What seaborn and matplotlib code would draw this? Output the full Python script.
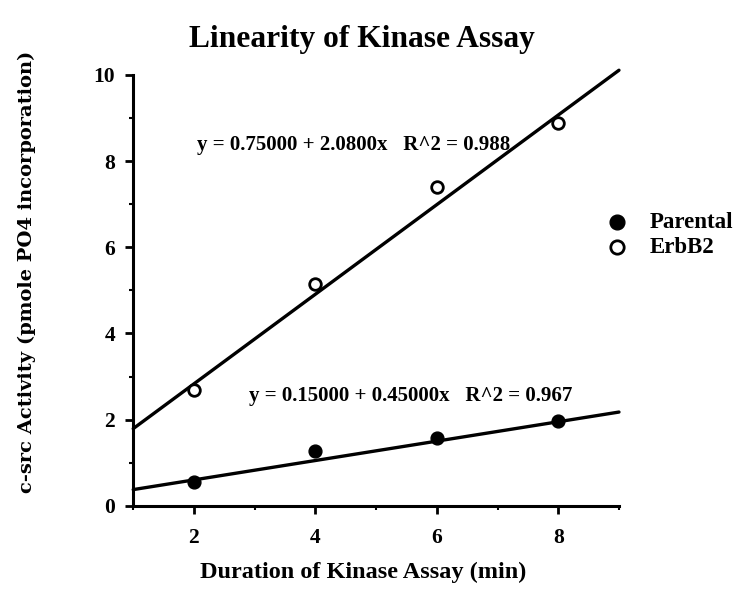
import numpy as np
import pandas as pd
import matplotlib
matplotlib.use("Agg")
import matplotlib.pyplot as plt
import seaborn as sns
from matplotlib.ticker import MultipleLocator

# values
minutes = [2, 4, 6, 8]
parental = [0.55, 1.28, 1.58, 1.97]
erbb2 = [2.68, 5.15, 7.39, 8.89]

# fit coefficients as printed (x = sample index, i.e. minutes / 2)
fit_parental = (0.15000, 0.45000, 0.967)
fit_erbb2 = (0.75000, 2.0800, 0.988)

df = pd.DataFrame({
    'minutes': minutes * 2,
    'activity': parental + erbb2,
    'group': ['Parental'] * 4 + ['ErbB2'] * 4,
})

sns.set_style("ticks")
plt.rcParams['font.family'] = ['Liberation Serif', 'DejaVu Serif']
plt.rcParams['font.weight'] = 'bold'
for key in ('text.color', 'axes.labelcolor', 'xtick.color', 'ytick.color'):
    plt.rcParams[key] = 'black'

fig = plt.figure(figsize=(7.36, 5.95), dpi=100)
ax = fig.add_axes([0.181, 0.150, 0.660, 0.724])

xlim = (1, 9)
xs = np.linspace(xlim[0], xlim[1], 50)
for (a, b, r2) in (fit_parental, fit_erbb2):
    fit_df = pd.DataFrame({'minutes': xs, 'activity': a + b * xs / 2})
    sns.lineplot(data=fit_df, x='minutes', y='activity', color='black',
                 linewidth=2.4, ax=ax, clip_on=False)

sns.scatterplot(data=df[df.group == 'Parental'], x='minutes', y='activity',
                color='black', edgecolor='black', s=85, linewidth=1,
                ax=ax, label='Parental', zorder=3)
sns.scatterplot(data=df[df.group == 'ErbB2'], x='minutes', y='activity',
                color='white', edgecolor='black', s=70, linewidth=2,
                ax=ax, label='ErbB2', zorder=3)

ax.set_xlim(*xlim)
ax.set_ylim(0, 10)
ax.xaxis.set_major_locator(MultipleLocator(2))
ax.xaxis.set_minor_locator(MultipleLocator(1))
ax.yaxis.set_major_locator(MultipleLocator(2))
ax.yaxis.set_minor_locator(MultipleLocator(1))
ax.set_xticks([2, 4, 6, 8])
ax.tick_params(which='major', length=6, width=2, labelsize=15.5)
ax.tick_params(which='minor', length=3, width=1.5)
ax.tick_params(axis='x', pad=10)
ax.tick_params(axis='y', pad=7)
for lbl in ax.get_xticklabels() + ax.get_yticklabels():
    lbl.set_fontweight('bold')

sns.despine(ax=ax)
for side in ('left', 'bottom'):
    ax.spines[side].set_linewidth(2.2)
    ax.spines[side].set_color('black')

ax.text(2.05, 8.38, 'y = 0.75000 + 2.0800x   R^2 = 0.988',
        fontsize=15, fontweight='bold', va='center', ha='left')
ax.text(2.9, 2.54, 'y = 0.15000 + 0.45000x   R^2 = 0.967',
        fontsize=15, fontweight='bold', va='center', ha='left')

ax.set_xlabel('Duration of Kinase Assay (min)', fontsize=17.5,
              fontweight='bold')
ax.xaxis.set_label_coords(0.473, -0.155)
ax.xaxis.label.set_va('center')
ax.set_ylabel('c-src Activity (pmole PO4 incorporation)', fontsize=14,
              fontweight='bold', family=['DejaVu Serif'])
ax.yaxis.set_label_coords(-0.218, 0.543)
ax.yaxis.label.set_va('center')
fig.suptitle('Linearity of Kinase Assay', fontsize=22.7, fontweight='bold',
             x=0.492, y=1 - 40 / 595, va='center')

ax.legend(loc='center left', bbox_to_anchor=(606 / 736, 1 - 235 / 595),
          bbox_transform=fig.transFigure, frameon=False,
          prop={'size': 16.5, 'weight': 'bold'}, handlelength=1,
          handletextpad=0.9, labelspacing=0.15, borderaxespad=0,
          borderpad=0, markerscale=1.15)

fig.savefig('out.png', dpi=100)
